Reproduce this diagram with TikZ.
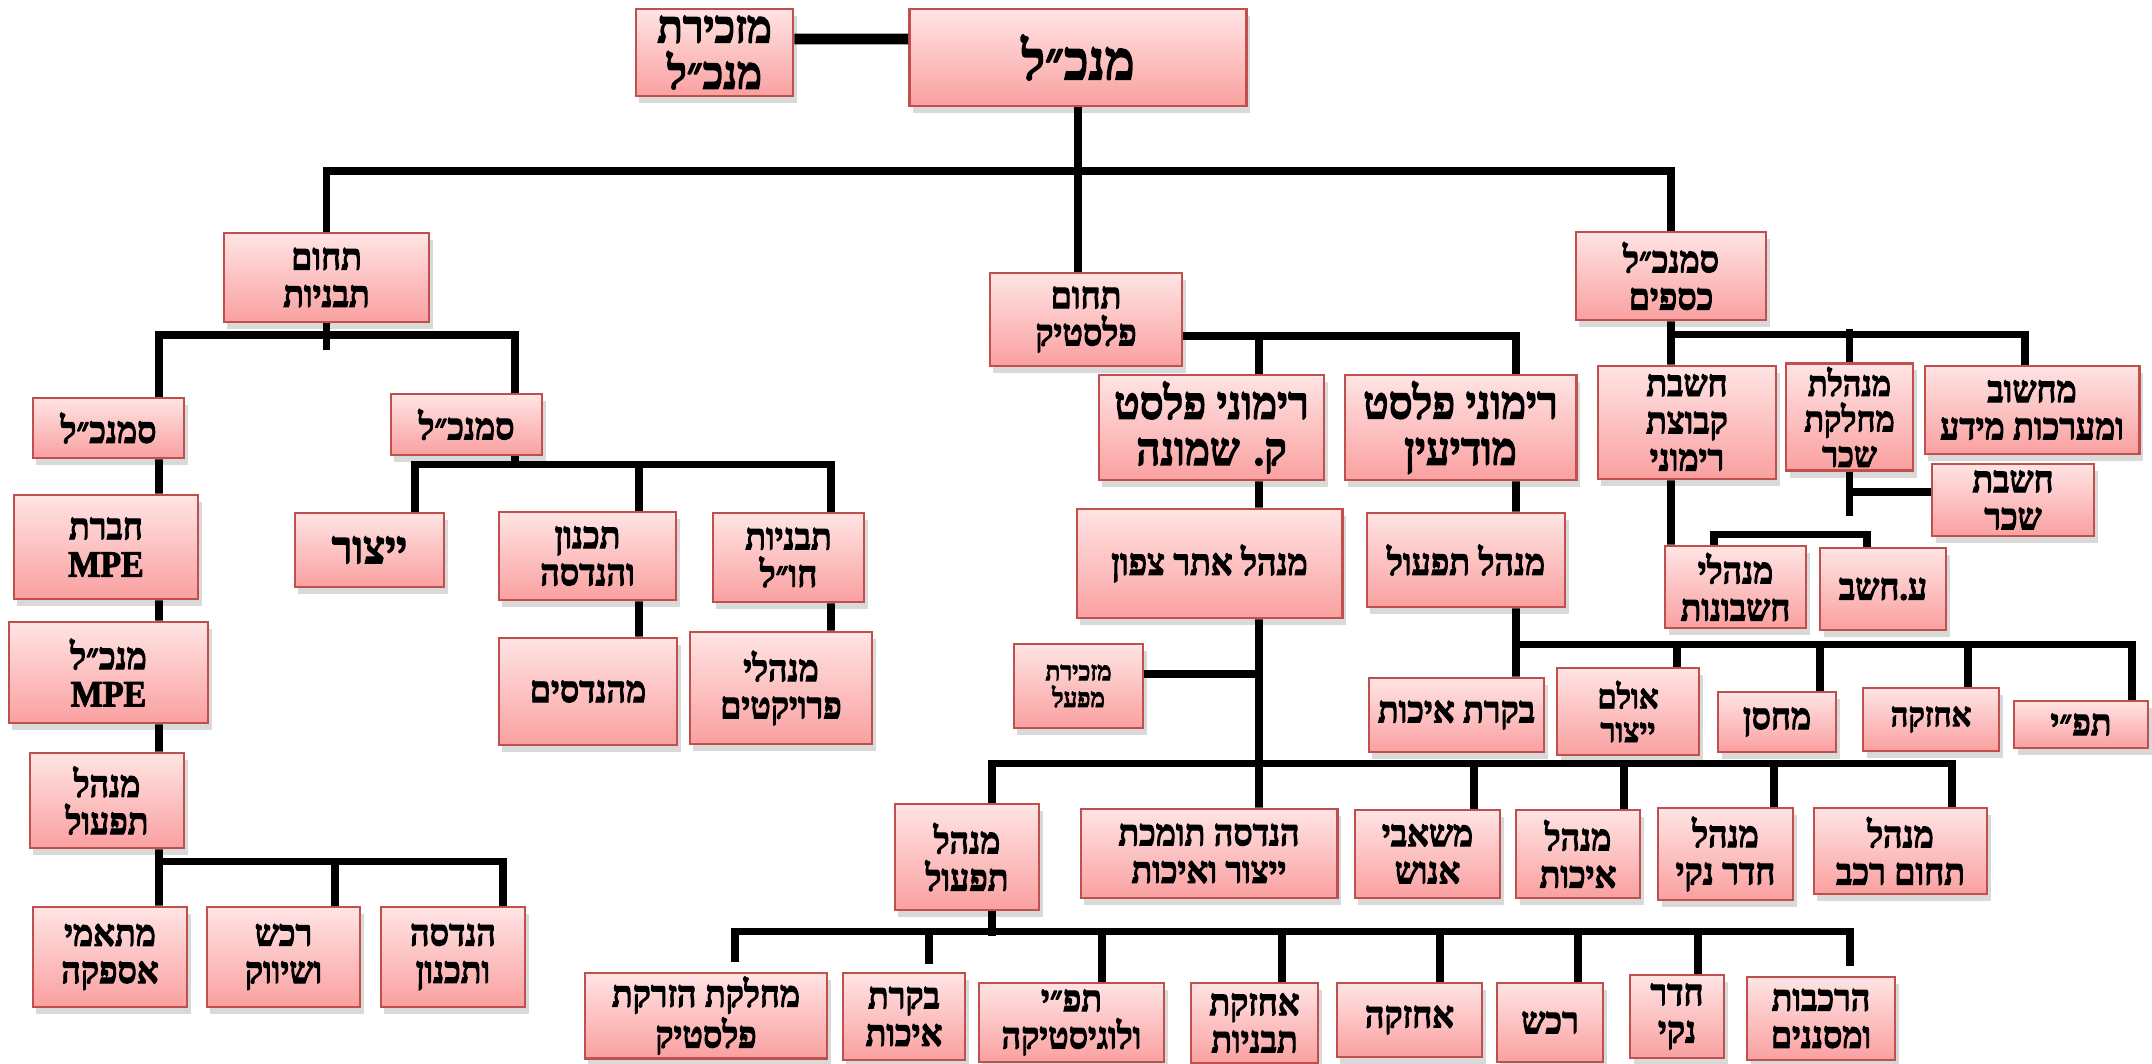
\documentclass[tikz,border=0pt]{standalone}
\usepackage{fontspec}
\setmainfont{Liberation Serif}
\newfontfamily\hebfont[Script=Hebrew, FakeStretch=0.92, FakeBold=2.6]{Liberation Serif}
\usepackage{tikz}
\usetikzlibrary{shadows}
\TeXXeTstate=1
\definecolor{boxtop}{HTML}{FFE4E4}
\definecolor{boxbot}{HTML}{FAA0A0}
\definecolor{boxedge}{HTML}{C0504D}
\newcommand{\hb}[1]{\beginR #1\endR}

\begin{document}
\begin{tikzpicture}[
    x=0.01cm, y=-0.01cm,
    box/.style={draw=boxedge, line width=0.8pt, top color=boxtop, bottom color=boxbot,
        drop shadow={shadow xshift=1pt, shadow yshift=-2pt, opacity=0.3},
        align=center, inner sep=1pt, font=\hebfont\bfseries\fontsize{10.5}{10.6}\selectfont},
    sz/.style 2 args={minimum width=#1cm, minimum height=#2cm},
    big/.style={font=\hebfont\bfseries\fontsize{15.5}{15.6}\selectfont},
    mid/.style={font=\hebfont\bfseries\fontsize{13}{13.1}\selectfont},
    lrg/.style={font=\hebfont\bfseries\fontsize{13}{13.1}\selectfont},
    sml/.style={font=\hebfont\bfseries\fontsize{7.5}{7.6}\selectfont},
    nrw/.style={font=\hebfont\bfseries\fontsize{9.5}{9.6}\selectfont},
    tight/.style={font=\hebfont\bfseries\fontsize{10}{10.1}\selectfont},
    conn/.style={line width=2.2pt, black},
]
\useasboundingbox (0,0) rectangle (2152,1063);

% Top: general manager
\node[box, big, sz={3.37}{0.97}] (mnk) at (1078,57.5) {\hb{מנכ״ל}};
\node[box, lrg, sz={1.57}{0.87}] (mzk) at (714.5,52.5) {\hb{מזכירת}\\\hb{מנכ״ל}};

% Divisions
\node[box, sz={2.05}{0.89}] (tav) at (326.5,277.5) {\hb{תחום}\\\hb{תבניות}};
\node[box, sz={1.92}{0.93}] (pls) at (1086,319.5) {\hb{תחום}\\\hb{פלסטיק}};
\node[box, sz={1.90}{0.88}] (ksf) at (1671,276) {\hb{סמנכ״ל}\\\hb{כספים}};

% Molds: left column
\node[box, sz={1.51}{0.60}] (smk1) at (108.5,428) {\hb{סמנכ״ל}};
\node[box, sz={1.84}{1.04}] (chv) at (106,547) {\hb{חברת}\\MPE};
\node[box, sz={1.99}{1.01}] (mnkm) at (108.5,672.5) {\hb{מנכ״ל}\\MPE};
\node[box, sz={1.54}{0.95}] (tif1) at (107,800.5) {\hb{מנהל}\\\hb{תפעול}};
\node[box, sz={1.54}{1.00}] (mta) at (110,957) {\hb{מתאמי}\\\hb{אספקה}};
\node[box, sz={1.53}{1.00}] (rch1) at (283.5,957) {\hb{רכש}\\\hb{ושיווק}};
\node[box, sz={1.44}{1.00}] (hnd1) at (453,957) {\hb{הנדסה}\\\hb{ותכנון}};

% Molds: right column
\node[box, sz={1.51}{0.61}] (smk2) at (466.5,424.5) {\hb{סמנכ״ל}};
\node[box, lrg, sz={1.49}{0.74}] (ytz) at (369.5,550) {\hb{ייצור}};
\node[box, sz={1.77}{0.88}] (tch) at (587.5,556) {\hb{תכנון}\\\hb{והנדסה}};
\node[box, sz={1.51}{0.89}] (tvc) at (788.5,557.5) {\hb{תבניות}\\\hb{חו״ל}};
\node[box, sz={1.78}{1.07}] (mhn) at (588,691.5) {\hb{מהנדסים}};
\node[box, sz={1.82}{1.12}] (mpr) at (781,688) {\hb{מנהלי}\\\hb{פרויקטים}};

% Plastic: two plants
\node[box, mid, sz={2.25}{1.05}] (rks) at (1211.5,427.5) {\hb{רימוני פלסט}\\\hb{ק. שמונה}};
\node[box, mid, sz={2.31}{1.05}] (rmd) at (1460.5,427.5) {\hb{רימוני פלסט}\\\hb{מודיעין}};
\node[box, sz={2.65}{1.09}] (mat) at (1209.5,563.5) {\hb{מנהל אתר צפון}};
\node[box, sz={1.98}{0.94}] (tif2) at (1466,560) {\hb{מנהל תפעול}};
\node[box, sml, sz={1.29}{0.84}] (mzm) at (1078.5,686) {\hb{מזכירת}\\\hb{מפעל}};

% Modiin plant
\node[box, sz={1.75}{0.74}] (bik1) at (1456.5,715) {\hb{בקרת איכות}};
\node[box, nrw, sz={1.42}{0.87}] (ulm) at (1628,711.5) {\hb{אולם}\\\hb{ייצור}};
\node[box, sz={1.18}{0.60}] (mch) at (1777,722) {\hb{מחסן}};
\node[box, nrw, sz={1.36}{0.63}] (ach1) at (1931,719.5) {\hb{אחזקה}};
\node[box, sz={1.34}{0.47}] (tpy) at (2081,724.5) {\hb{תפ״י}};

% Finance
\node[box, sz={1.78}{1.13}] (chk) at (1687,422.5) {\hb{חשבת}\\\hb{קבוצת}\\\hb{רימוני}};
\node[box, tight, sz={1.27}{1.02}] (mms) at (1849.5,417) {\hb{מנהלת}\\\hb{מחלקת}\\\hb{שכר}};
\node[box, sz={2.14}{0.88}] (mcs) at (2032,410) {\hb{מחשוב}\\\hb{ומערכות מידע}};
\node[box, sz={1.62}{0.72}] (chs) at (2013,500) {\hb{חשבת}\\\hb{שכר}};
\node[box, sz={1.41}{0.82}] (mhc) at (1735.5,587) {\hb{מנהלי}\\\hb{חשבונות}};
\node[box, sz={1.26}{0.82}] (ach) at (1883,589) {\hb{ע.חשב}};

% Kiryat Shmona plant
\node[box, sz={1.44}{1.06}] (tif3) at (967,857) {\hb{מנהל}\\\hb{תפעול}};
\node[box, sz={2.56}{0.89}] (htm) at (1209,853.5) {\hb{הנדסה תומכת}\\\hb{ייצור ואיכות}};
\node[box, sz={1.45}{0.88}] (msh) at (1427.5,854) {\hb{משאבי}\\\hb{אנוש}};
\node[box, sz={1.24}{0.88}] (mic) at (1578,854) {\hb{מנהל}\\\hb{איכות}};
\node[box, sz={1.35}{0.92}] (mcn) at (1725.5,854) {\hb{מנהל}\\\hb{חדר נקי}};
\node[box, sz={1.73}{0.86}] (mtr) at (1900.5,851) {\hb{מנהל}\\\hb{תחום רכב}};

% Kiryat Shmona operations
\node[box, sz={2.42}{0.81}] (mhz) at (706,1015.5) {\hb{מחלקת הזרקת}\\\hb{פלסטיק}};
\node[box, sz={1.22}{0.87}] (bik2) at (904,1016.5) {\hb{בקרת}\\\hb{איכות}};
\node[box, sz={1.85}{0.79}] (tpl) at (1071.5,1022.5) {\hb{תפ״י}\\\hb{ולוגיסטיקה}};
\node[box, sz={1.27}{0.80}] (atv) at (1254.5,1023) {\hb{אחזקת}\\\hb{תבניות}};
\node[box, sz={1.45}{0.74}] (ach2) at (1409.5,1020) {\hb{אחזקה}};
\node[box, sz={1.06}{0.79}] (rch2) at (1550,1022.5) {\hb{רכש}};
\node[box, sz={0.94}{0.83}] (cnk) at (1677,1016.5) {\hb{חדר}\\\hb{נקי}};
\node[box, sz={1.48}{0.83}] (hrk) at (1821,1018.5) {\hb{הרכבות}\\\hb{ומסננים}};

% Connectors: top
\coordinate (topbar) at (1078,171);
\draw[conn, line width=3pt] ([yshift=0.135cm]mzk.east) -- ([yshift=0.185cm]mnk.west);
\draw[conn] (mnk.south) -- (mnk.south |- pls.north);
\draw[conn] (tav.north) |- (topbar) -| (ksf.north);

% Molds
\coordinate (tavbar) at (326.5,335);
\draw[conn] (tav.south) -- ++(0,27);
\draw[conn] ([xshift=0.505cm]smk1.north) |- (tavbar) -| ([xshift=0.485cm]smk2.north);
\draw[conn] ([xshift=0.505cm]smk1.south) -- ([xshift=0.53cm]chv.north);
\draw[conn] ([xshift=0.53cm]chv.south) -- ([xshift=0.505cm]mnkm.north);
\draw[conn] ([xshift=0.505cm]mnkm.south) -- ([xshift=0.52cm]tif1.north);
\draw[conn] ([xshift=0.52cm]tif1.south) -- ([xshift=0.49cm]mta.north);
\draw[conn] ([xshift=0.52cm]tif1.south) ++(0,12) -| ([xshift=0.50cm]hnd1.north);
\draw[conn] ([xshift=0.515cm]rch1.north) -- ++(0,-47);
\draw[conn] ([xshift=0.485cm]smk2.south) -- ++(0,11);
\draw[conn] ([xshift=0.455cm]ytz.north) -- ++(0,-47) -| ([xshift=0.425cm]tvc.north);
\draw[conn] ([xshift=0.515cm]tch.north) -- ++(0,-46);
\draw[conn] ([xshift=0.515cm]tch.south) -- ([xshift=0.51cm]mhn.north);
\draw[conn] ([xshift=0.425cm]tvc.south) -- ([xshift=0.50cm]mpr.north);

% Plastic
\draw[conn] ([yshift=-0.165cm]pls.east) -| ([xshift=0.555cm]rmd.north);
\draw[conn] ([xshift=0.475cm]rks.north) -- ++(0,-39);
\draw[conn] ([xshift=0.475cm]rks.south) -- ([xshift=0.495cm]mat.north);
\draw[conn] ([xshift=0.555cm]rmd.south) -- ([xshift=0.50cm]tif2.north);
\draw[conn] ([xshift=0.495cm]mat.south) -- ([xshift=0.50cm]htm.north);
\draw[conn] ([yshift=0.12cm]mzm.east) -- ++(116,0);

% Modiin
\draw[conn] ([xshift=0.50cm]tif2.south) -- ([xshift=0.595cm]bik1.north);
\draw[conn] ([xshift=0.50cm]tif2.south) ++(0,36) -| ([xshift=0.51cm]tpy.north);
\draw[conn] ([xshift=0.49cm]ulm.north) -- ++(0,-25);
\draw[conn] ([xshift=0.43cm]mch.north) -- ++(0,-49);
\draw[conn] ([xshift=0.37cm]ach1.north) -- ++(0,-45);

% Finance
\draw[conn] (ksf.south) -- ([xshift=-0.16cm]chk.north);
\draw[conn] (ksf.south) ++(0,13) -| ([xshift=-0.07cm]mcs.north);
\draw[conn] (mms.north) -- ++(0,-33);
\draw[conn] (mms.south) -- ++(0,44);
\draw[conn] ([yshift=0.08cm]chs.west) -- ++(-82,0);
\draw[conn] ([xshift=-0.16cm]chk.south) -- ([xshift=-0.645cm]mhc.north);
\draw[conn] ([xshift=-0.215cm]mhc.north) -- ++(0,-10) -| ([xshift=-0.16cm]ach.north);

% Kiryat Shmona
\draw[conn] ([xshift=0.25cm]tif3.north) -- ++(0,-39) -| ([xshift=0.515cm]mtr.north);
\draw[conn] ([xshift=0.465cm]msh.north) -- ++(0,-45);
\draw[conn] ([xshift=0.46cm]mic.north) -- ++(0,-45);
\draw[conn] ([xshift=0.485cm]mcn.north) -- ++(0,-43);
\draw[conn] ([xshift=0.25cm]tif3.south) -- ++(0,25);
\draw[conn] ([xshift=0.29cm, yshift=0.10cm]mhz.north) -- ++(0,-30) -| ([xshift=0.29cm, yshift=0.10cm]hrk.north);
\draw[conn] ([xshift=0.25cm, yshift=0.08cm]bik2.north) -- ++(0,-30);
\draw[conn] ([xshift=0.305cm]tpl.north) -- ++(0,-48);
\draw[conn] ([xshift=0.275cm]atv.north) -- ++(0,-48);
\draw[conn] ([xshift=0.305cm]ach2.north) -- ++(0,-48);
\draw[conn] ([xshift=0.28cm]rch2.north) -- ++(0,-48);
\draw[conn] ([xshift=0.21cm]cnk.north) -- ++(0,-40);
\end{tikzpicture}
\end{document}
